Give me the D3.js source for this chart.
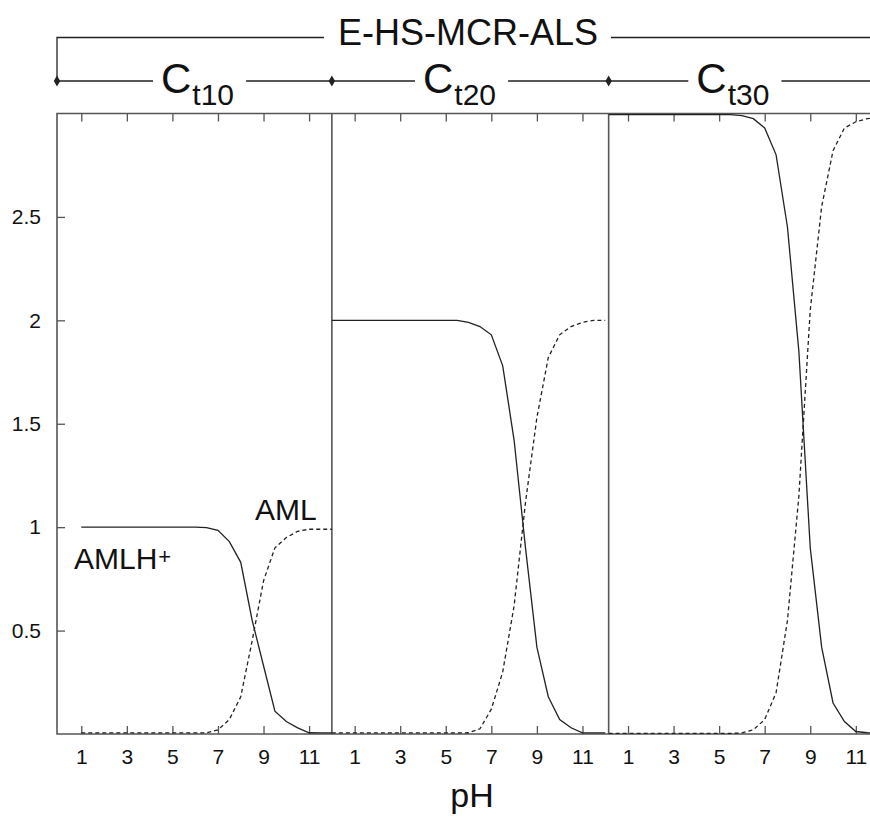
<!DOCTYPE html>
<html>
<head>
<meta charset="utf-8">
<script src="https://cdn.jsdelivr.net/npm/d3@7"></script>
<style>
  body { margin: 0; background: #fff; }
  svg { display: block; }
  text { font-family: "Liberation Sans", Arial, Helvetica, sans-serif; fill: #111; }
</style>
</head>
<body>
<svg id="chart" width="870" height="823"></svg>
<script>
// ---- data -------------------------------------------------------------
const methodTitle = "E-HS-MCR-ALS";
const segmentNames = ["t10", "t20", "t30"];
const segmentOffsets = [0, 12, 24];          // each segment spans pH 0-12 on the shared axis
const pHTicks = [1, 3, 5, 7, 9, 11];
const yTicks = [0.5, 1, 1.5, 2, 2.5];

// pH points for each concentration level
const pH_t10 = [1, 2, 3, 4, 5, 5.5, 6, 6.5, 7, 7.5, 8, 8.5, 9, 9.5, 10, 10.5, 11, 11.5, 12];
const pH_t20 = [0, 1, 2, 3, 4, 5, 5.5, 6, 6.5, 7, 7.5, 8, 8.5, 9, 9.5, 10, 10.5, 11, 11.5, 12];
const pH_t30 = [0.15, 1, 2, 3, 4, 5, 5.5, 6, 6.5, 7, 7.5, 8, 8.5, 9, 9.5, 10, 10.5, 11, 11.5, 12];

// AMLH+ (protonated) concentration profiles
const amlh_t10 = [1, 1, 1, 1, 1, 1, 1, 0.998, 0.985, 0.93, 0.83, 0.55, 0.33, 0.11, 0.06, 0.03, 0.006, 0.005, 0.005];
const amlh_t20 = [2, 2, 2, 2, 2, 2, 2, 1.99, 1.97, 1.93, 1.78, 1.42, 0.9, 0.42, 0.18, 0.07, 0.03, 0.005, 0.005, 0.005];
const amlh_t30 = [2.995, 2.995, 2.995, 2.995, 2.995, 2.995, 2.995, 2.99, 2.975, 2.93, 2.8, 2.45, 1.85, 0.9, 0.42, 0.15, 0.06, 0.012, 0.006, 0.004];

// AML (neutral) concentration profiles
const aml_t10 = [0.005, 0.005, 0.005, 0.005, 0.005, 0.005, 0.005, 0.006, 0.02, 0.07, 0.18, 0.45, 0.74, 0.9, 0.95, 0.98, 0.99, 0.99, 0.99];
const aml_t20 = [0.005, 0.005, 0.005, 0.005, 0.005, 0.005, 0.005, 0.006, 0.025, 0.12, 0.3, 0.62, 1.12, 1.53, 1.82, 1.93, 1.97, 1.99, 2.0, 2.0];
const aml_t30 = [0.003, 0.003, 0.003, 0.003, 0.003, 0.003, 0.003, 0.005, 0.02, 0.07, 0.2, 0.55, 1.15, 2.05, 2.55, 2.82, 2.93, 2.96, 2.975, 2.98];

const segmentPH = [pH_t10, pH_t20, pH_t30];
const segmentAMLH = [amlh_t10, amlh_t20, amlh_t30];
const segmentAML = [aml_t10, aml_t20, aml_t30];

// ---- layout -----------------------------------------------------------
const W = 870, H = 823;
const plotLeft = 57, plotTop = 113.5, plotBottom = 734;
const labelAt = [4.5, 4, 4];   // pH where each C label starts

const svg = d3.select("#chart");
const x = d3.scaleLinear().domain([0, 36]).range([58.5, 878.6]);
const y = d3.scaleLinear().domain([0, 3]).range([plotBottom, plotTop]);

const frameColor = "#555";
const lineColor = "#222";

// ---- axes -------------------------------------------------------------
const allXTicks = segmentOffsets.flatMap(o => pHTicks.map(t => o + t));
const fmtPH = d => String(d - 12 * Math.floor(d / 12));

const xAxisBottom = d3.axisBottom(x)
  .tickValues(allXTicks).tickFormat(fmtPH)
  .tickSizeInner(-8).tickSizeOuter(0).tickPadding(15);
const gxb = svg.append("g").attr("transform", `translate(0,${plotBottom})`).call(xAxisBottom);

const xAxisTop = d3.axisTop(x)
  .tickValues(allXTicks).tickFormat("")
  .tickSizeInner(-8).tickSizeOuter(0);
const gxt = svg.append("g").attr("transform", `translate(0,${plotTop})`).call(xAxisTop);

const yAxis = d3.axisLeft(y)
  .tickValues(yTicks).tickFormat(d3.format("~g"))
  .tickSizeInner(-8).tickSizeOuter(0).tickPadding(16);
const gy = svg.append("g").attr("transform", `translate(${plotLeft},0)`).call(yAxis);

[gxb, gxt, gy].forEach(g => {
  g.select(".domain").remove();
  g.selectAll(".tick line").attr("stroke", frameColor).attr("stroke-width", 1.3);
  g.selectAll(".tick text")
    .attr("fill", "#111")
    .style("font-size", "21px")
    .style("font-family", '"Liberation Sans", Arial, sans-serif');
});

// frame (left, top, bottom)
svg.append("path")
  .attr("d", `M${W},${plotTop}H${plotLeft}V${plotBottom}H${W}`)
  .attr("fill", "none").attr("stroke", frameColor).attr("stroke-width", 1.6);

// separators between concentration levels
segmentOffsets.slice(1).forEach((o, i) => {
  const sx = x(o + segmentPH[i + 1][0]);
  svg.append("line")
    .attr("x1", sx).attr("x2", sx)
    .attr("y1", plotTop).attr("y2", plotBottom)
    .attr("stroke", frameColor).attr("stroke-width", 1.6);
});

// ---- concentration profiles ------------------------------------------
const plot = svg.append("g");
segmentOffsets.forEach((o, i) => {
  const pts = segmentPH[i];
  const line = d3.line().x((d, k) => x(o + pts[k])).y(d => y(d));
  plot.append("path")
    .datum(segmentAMLH[i])
    .attr("d", line)
    .attr("fill", "none").attr("stroke", lineColor).attr("stroke-width", 1.3);
  plot.append("path")
    .datum(segmentAML[i])
    .attr("d", line)
    .attr("fill", "none").attr("stroke", lineColor).attr("stroke-width", 1.3)
    .attr("stroke-dasharray", "4,3");
});

// species labels
const amlhLabel = svg.append("text").attr("x", 74).attr("y", 569).style("font-size", "30px");
amlhLabel.append("tspan").text("AMLH");
amlhLabel.append("tspan").text("+").style("font-size", "22px").attr("dy", -5).attr("dx", 1);
svg.append("text").attr("x", 255).attr("y", 520).style("font-size", "30px").text("AML");

// x-axis title
svg.append("text").attr("x", 472).attr("y", 807).attr("text-anchor", "middle")
  .style("font-size", "34px").text("pH");

// ---- header: method bracket and level labels -------------------------
const headerTop = 37.5, levelY = 81;
const title = svg.append("text").attr("x", 468).attr("y", 45).attr("text-anchor", "middle")
  .style("font-size", "36px").text(methodTitle);
const tb = title.node().getBBox();
svg.append("path")
  .attr("d", `M${plotLeft},${levelY}V${headerTop}H${tb.x - 14}M${tb.x + tb.width + 13},${headerTop}H${W}`)
  .attr("fill", "none").attr("stroke", lineColor).attr("stroke-width", 1.3);

const dotX = segmentOffsets.map((o, i) => i === 0 ? plotLeft : x(o + segmentPH[i][0]));
segmentOffsets.forEach((o, i) => {
  const lab = svg.append("text").attr("x", x(o + labelAt[i])).attr("y", 93).style("font-size", "42px");
  lab.append("tspan").text("C");
  lab.append("tspan").text(segmentNames[i]).style("font-size", "30px").attr("dy", 12).attr("dx", 1);
  const bb = lab.node().getBBox();
  const nextX = i < segmentOffsets.length - 1 ? dotX[i + 1] : W;
  svg.append("path")
    .attr("d", `M${dotX[i]},${levelY}H${bb.x - 8}M${bb.x + bb.width + 12},${levelY}H${nextX}`)
    .attr("fill", "none").attr("stroke", lineColor).attr("stroke-width", 1.3);
  svg.append("path")
    .attr("d", d3.symbol(d3.symbolDiamond, 36)())
    .attr("transform", `translate(${dotX[i]},${levelY})`)
    .attr("fill", lineColor);
});
</script>
</body>
</html>
